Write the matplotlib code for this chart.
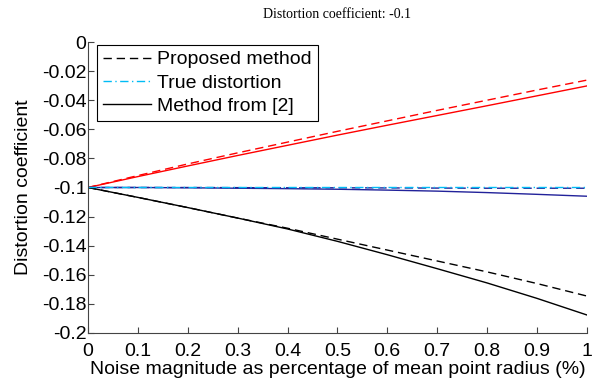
import numpy as np
import matplotlib.pyplot as plt

noise = [0, 0.1, 0.2, 0.3, 0.4, 0.5, 0.6, 0.7, 0.8, 0.9, 1.0]

# positive branch (red)
red_proposed = [-0.1, -0.0918, -0.0838, -0.0762, -0.0688, -0.0614, -0.0542, -0.047, -0.040, -0.033, -0.0262]
red_ref2 = [-0.1, -0.0925, -0.0852, -0.078, -0.071, -0.064, -0.0572, -0.0505, -0.0438, -0.037, -0.0302]
# true value branch (blue)
blue_proposed = [-0.1, -0.1, -0.1, -0.1001, -0.1002, -0.1002, -0.1003, -0.1004, -0.1005, -0.1005, -0.1005]
blue_ref2 = [-0.1, -0.1, -0.1002, -0.1005, -0.1008, -0.1012, -0.1018, -0.1025, -0.1035, -0.1047, -0.106]
true_val = [-0.1] * 11
# negative branch (black)
black_proposed = [-0.1, -0.1068, -0.1138, -0.121, -0.128, -0.1355, -0.143, -0.1505, -0.158, -0.166, -0.1746]
black_ref2 = [-0.1, -0.1068, -0.1138, -0.121, -0.1285, -0.137, -0.1462, -0.1558, -0.1656, -0.1762, -0.1876]

DASH = (6, 3.5)
DASHDOT = (6, 2.5, 1, 2.5)
CYAN = '#00bcf5'

fig = plt.figure(figsize=(6.01, 3.89), dpi=100)
ax = fig.add_axes([0.1464, 0.144, 0.830, 0.748])
plt.rcParams['font.family'] = ['Liberation Sans']

ax.plot(noise, red_proposed, color='red', lw=1, dashes=DASH)
ax.plot(noise, red_ref2, '-', color='red', lw=1)
ax.plot(noise, blue_ref2, '-', color='#22229a', lw=1)
ax.plot(noise, blue_proposed, color='#22229a', lw=1, dashes=DASH)
ax.plot(noise, black_proposed, color='black', lw=1, dashes=DASH)
ax.plot(noise, black_ref2, '-', color='black', lw=1)
ax.plot(noise, true_val, color=CYAN, lw=1, dashes=DASHDOT)

# legend proxies
h1, = ax.plot([], [], color='black', lw=1, dashes=DASH)
h2, = ax.plot([], [], color=CYAN, lw=1, dashes=DASHDOT)
h3, = ax.plot([], [], '-', color='black', lw=1)
leg = ax.legend([h1, h2, h3], ['Proposed method', 'True distortion', 'Method from [2]'],
                loc='upper left', fancybox=False, framealpha=1, edgecolor='black',
                prop={'family': 'Liberation Sans', 'size': 14},
                borderpad=0.3, labelspacing=0.3, handlelength=2.5, handletextpad=0.3,
                borderaxespad=0, bbox_to_anchor=(0.018, 0.99))
leg.get_frame().set_linewidth(0.8)

ax.set_xlim(0, 1)
ax.set_ylim(-0.2, 0)
ax.set_xticks(np.arange(0, 1.01, 0.1))
ax.set_xticklabels(['0', '0.1', '0.2', '0.3', '0.4', '0.5', '0.6', '0.7', '0.8', '0.9', '1'])
ax.set_yticks(np.arange(-0.2, 0.001, 0.02))
ax.set_yticklabels(['-0.2', '-0.18', '-0.16', '-0.14', '-0.12', '-0.1', '-0.08', '-0.06',
                    '-0.04', '-0.02', '0'])
ax.spines['top'].set_visible(False)
ax.spines['right'].set_visible(False)
for s in ('left', 'bottom'):
    ax.spines[s].set_color('#444444')
    ax.spines[s].set_linewidth(0.8)
ax.tick_params(direction='in', length=4, width=0.8, color='#444444', labelsize=14, pad=1)
ax.tick_params(axis='x', pad=7)
for lbl in ax.get_xticklabels() + ax.get_yticklabels():
    lbl.set_family('Liberation Sans')

ax.set_xlabel('Noise magnitude as percentage of mean point radius (%)',
              fontsize=14, family='Liberation Sans', labelpad=1)
ax.set_ylabel('Distortion coefficient', fontsize=14, family='Liberation Sans', labelpad=7)
ax.set_title('Distortion coefficient: -0.1', fontsize=10, family='Liberation Serif', pad=17)

fig.savefig('out.png', dpi=100)
